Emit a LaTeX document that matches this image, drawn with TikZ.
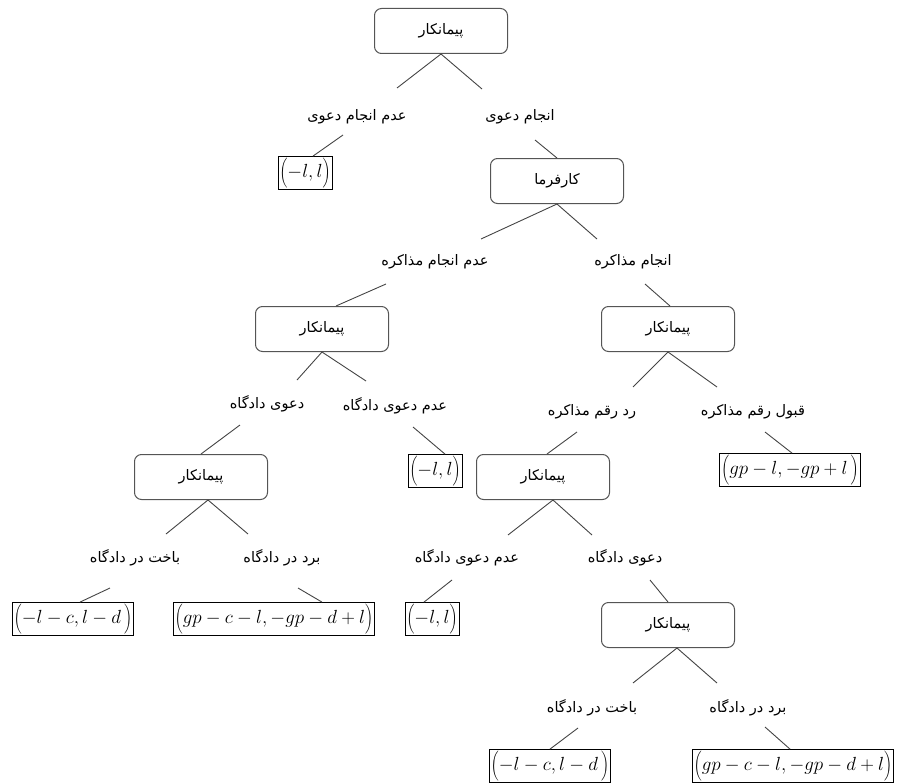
\documentclass[tikz,border=0pt]{standalone}
\usepackage{fix-cm}
\usepackage{fontspec}
\usetikzlibrary{calc}
\TeXXeTstate=1
\newfontfamily\arabicfont[Script=Arabic]{DejaVu Sans}
\newcommand{\fa}[1]{{\arabicfont\beginR #1\endR}}
\newcommand{\payoff}[1]{$\left(#1\rule[-9pt]{0pt}{27pt}\right)$}
\definecolor{boxgray}{HTML}{555555}
\definecolor{linegray}{HTML}{444444}
\tikzset{
  player/.style={draw=boxgray, line width=1pt, rounded corners=7pt,
    minimum width=133pt, minimum height=45pt, inner sep=0pt,
    font=\fontsize{14.5}{16}\selectfont},
  act/.style={inner sep=1pt, font=\fontsize{14.5}{16}\selectfont},
  pay/.style={draw=black, line width=0.8pt, inner sep=1.5pt, minimum height=33pt,
    font=\fontsize{19}{22}\selectfont},
  edge/.style={draw=linegray, line width=0.9pt}
}
\begin{document}
\begin{tikzpicture}[x=1pt,y=-1pt]
\useasboundingbox (0,0) rectangle (900,784);
% decision nodes
\node[player] (r)  at (441,31)  {\fa{پیمانکار}};
\node[player] (k)  at (557,181) {\fa{کارفرما}};
\node[player] (p2) at (322,329) {\fa{پیمانکار}};
\node[player] (p3) at (668,329) {\fa{پیمانکار}};
\node[player] (p4) at (201,477) {\fa{پیمانکار}};
\node[player] (p5) at (543,477) {\fa{پیمانکار}};
\node[player] (p6) at (668,625) {\fa{پیمانکار}};
% action labels
\node[act] (l1)  at (357,117) {\fa{عدم انجام دعوی}};
\node[act] (l2)  at (520,117) {\fa{انجام دعوی}};
\node[act] (l3)  at (435,262) {\fa{عدم انجام مذاکره}};
\node[act] (l4)  at (633,262) {\fa{انجام مذاکره}};
\node[act] (l5)  at (267,404) {\fa{دعوی دادگاه}};
\node[act] (l6)  at (395,406) {\fa{عدم دعوی دادگاه}};
\node[act] (l7)  at (592,412) {\fa{رد رقم مذاکره}};
\node[act] (l8)  at (753,412) {\fa{قبول رقم مذاکره}};
\node[act] (l9)  at (135,558) {\fa{باخت در دادگاه}};
\node[act] (l10) at (282,558) {\fa{برد در دادگاه}};
\node[act] (l11) at (467,558) {\fa{عدم دعوی دادگاه}};
\node[act] (l12) at (625,558) {\fa{دعوی دادگاه}};
\node[act] (l13) at (592,708) {\fa{باخت در دادگاه}};
\node[act] (l14) at (748,708) {\fa{برد در دادگاه}};
% payoffs
\node[pay] (q1) at (305,173) {\payoff{-l,l}};
\node[pay] (q2) at (435,471) {\payoff{-l,l}};
\node[pay] (q3) at (790,470) {\payoff{gp-l,-gp+l\,}};
\node[pay] (q4) at (73,619)  {\payoff{-l-c,l-d\,}};
\node[pay] (q5) at (274,619) {\payoff{gp-c-l,-gp-d+l}};
\node[pay] (q6) at (432,619) {\payoff{-l,l}};
\node[pay] (q7) at (550,766) {\payoff{-l-c,l-d\,}};
\node[pay] (q8) at (793,766) {\payoff{gp-c-l,-gp-d+l}};
% connectors
\draw[edge] (r.south) -- ($(l1)+(40,-29)$);
\draw[edge] ($(l1)+(-14,18)$) -- ([xshift=8pt]q1.north);
\draw[edge] (r.south) -- ($(l2)+(-38,-28)$);
\draw[edge] ($(l2)+(15,23)$) -- (k.north);
\draw[edge] (k.south) -- ($(l3)+(46,-23)$);
\draw[edge] ($(l3)+(-49,22)$) -- ([xshift=14pt]p2.north);
\draw[edge] (k.south) -- ($(l4)+(-36,-23)$);
\draw[edge] ($(l4)+(12,22)$) -- ([xshift=2pt]p3.north);
\draw[edge] (p2.south) -- ($(l5)+(30,-24)$);
\draw[edge] ($(l5)+(-27,21)$) -- (p4.north);
\draw[edge] (p2.south) -- ($(l6)+(-29,-25)$);
\draw[edge] ($(l6)+(18,21)$) -- ([xshift=10pt]q2.north);
\draw[edge] (p3.south) -- ($(l7)+(41,-25)$);
\draw[edge] ($(l7)+(-15,20)$) -- ([xshift=4pt]p5.north);
\draw[edge] (p3.south) -- ($(l8)+(-36,-25)$);
\draw[edge] ($(l8)+(12,20)$) -- ([xshift=2pt]q3.north);
\draw[edge] ([xshift=7pt]p4.south) -- ($(l9)+(31,-24)$);
\draw[edge] ($(l9)+(-25,30)$) -- ([xshift=7pt]q4.north);
\draw[edge] ([xshift=7pt]p4.south) -- ($(l10)+(-34,-24)$);
\draw[edge] ($(l10)+(16,30)$) -- ([xshift=48pt]q5.north);
\draw[edge] ([xshift=10pt]p5.south) -- ($(l11)+(41,-23)$);
\draw[edge] ($(l11)+(-15,22)$) -- ([xshift=-8pt]q6.north);
\draw[edge] ([xshift=10pt]p5.south) -- ($(l12)+(-33,-23)$);
\draw[edge] ($(l12)+(25,22)$) -- (p6.north);
\draw[edge] ([xshift=9pt]p6.south) -- ($(l13)+(41,-25)$);
\draw[edge] ($(l13)+(-14,20)$) -- (q7.north);
\draw[edge] ([xshift=9pt]p6.south) -- ($(l14)+(-31,-25)$);
\draw[edge] ($(l14)+(17,19)$) -- ([xshift=-3pt]q8.north);
\end{tikzpicture}
\end{document}
